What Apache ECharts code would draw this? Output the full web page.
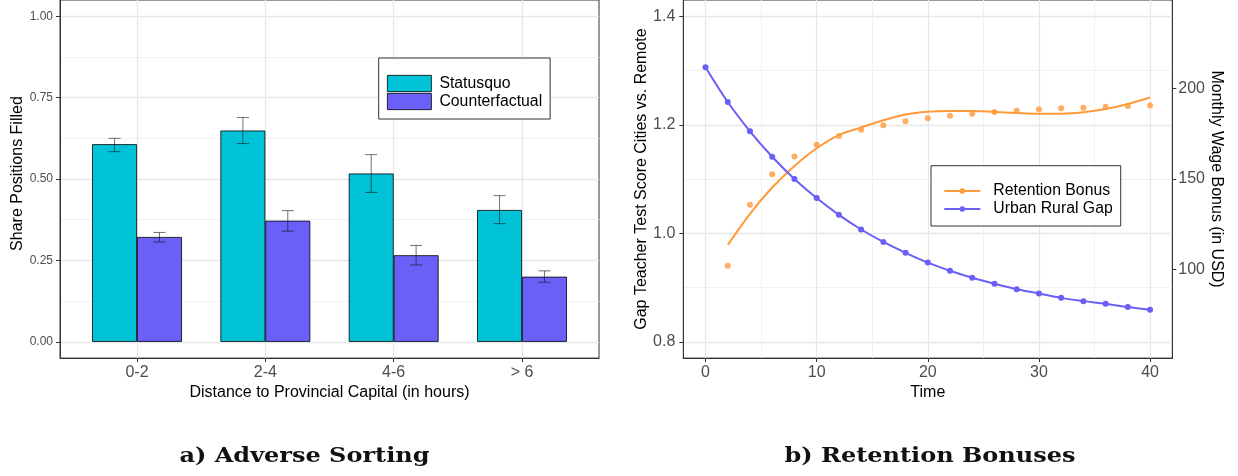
<!DOCTYPE html>
<html>
<head>
<meta charset="utf-8">
<script src="https://cdn.jsdelivr.net/npm/echarts@6/dist/echarts.min.js"></script>
<style>
  html, body { margin: 0; padding: 0; background: #ffffff; }
  #chart { width: 1238px; height: 476px; }
</style>
</head>
<body>
<div id="chart"></div>
<script>
// ---- Panel a: share of positions filled by distance band ----
const categories = ['0-2', '2-4', '4-6', '> 6'];
const statusquo = [0.607, 0.649, 0.517, 0.405];
const statusquoLow = [0.584, 0.609, 0.459, 0.363];
const statusquoHigh = [0.625, 0.689, 0.575, 0.449];
const counterfactual = [0.322, 0.372, 0.266, 0.200];
const counterfactualLow = [0.307, 0.340, 0.236, 0.183];
const counterfactualHigh = [0.336, 0.403, 0.296, 0.218];
const shareTicks = [0, 0.25, 0.5, 0.75, 1];
const shareMinorTicks = [0.125, 0.375, 0.625, 0.875];

// ---- Panel b: urban-rural gap and retention bonus over time ----
const gapTimes = [0, 2, 4, 6, 8, 10, 12, 14, 16, 18, 20, 22, 24, 26, 28, 30, 32, 34, 36, 38, 40];
const urbanRuralGap = [1.306, 1.242, 1.188, 1.141, 1.100, 1.065, 1.034, 1.007, 0.984, 0.964, 0.946,
                       0.931, 0.918, 0.907, 0.897, 0.889, 0.881, 0.875, 0.870, 0.864, 0.859];
const bonusTimes = [2, 4, 6, 8, 10, 12, 14, 16, 18, 20, 22, 24, 26, 28, 30, 32, 34, 36, 38, 40];
const retentionBonus = [102.0, 135.8, 152.6, 162.4, 169.0, 173.8, 177.2, 179.8, 182.0, 183.6,
                        185.0, 186.1, 187.1, 187.8, 188.6, 189.1, 189.4, 190.0, 190.4, 190.7];
const retentionBonusFit = [113.5, 130.8, 145.3, 157.2, 167.0, 174.3, 178.5, 182.5, 185.7, 187.2,
                           187.6, 187.6, 187.1, 186.5, 186.1, 186.1, 186.9, 188.7, 191.5, 195.1];
const timeTicks = [0, 10, 20, 30, 40];
const timeMinorTicks = [5, 15, 25, 35];
const gapTicks = [0.8, 1.0, 1.2, 1.4];
const gapMinorTicks = [0.9, 1.1, 1.3];
const bonusTicks = [100, 150, 200];

const FONT = '"Liberation Sans", Arial, Helvetica, sans-serif';
const CYAN = '#00C3D7';
const PURPLE = '#6A5FF6';
const ORANGE = '#FF9A3A';
const AXIS = '#333333';
const TICK_TEXT = '#4D4D4D';
const GRID_MAJOR = '#E7E7E7';
const GRID_MINOR = '#F1F1F1';

const DODGE = 0.175;     // half of one bar's width in category units
const CAP = 0.047;       // half width of the error bar caps

function majorAxis(extra) {
  return Object.assign({
    type: 'value',
    axisLine: { show: true, onZero: false, lineStyle: { color: AXIS, width: 1 } },
    axisTick: { show: true, length: 4, lineStyle: { color: AXIS, width: 1 } },
    axisLabel: { color: TICK_TEXT, fontFamily: FONT, fontSize: 16 },
    splitLine: { show: true, lineStyle: { color: GRID_MAJOR, width: 1.3 } },
    nameLocation: 'middle',
    nameTextStyle: { color: '#000', fontFamily: FONT, fontSize: 16 }
  }, extra);
}

function minorAxis(extra) {
  return Object.assign({
    type: 'value',
    axisLine: { show: false, onZero: false },
    axisTick: { show: false },
    axisLabel: { show: false },
    splitLine: { show: true, lineStyle: { color: GRID_MINOR, width: 1 } }
  }, extra);
}

function errorBars(name, lows, highs, offset) {
  return {
    type: 'custom',
    name: name + ' CI',
    xAxisIndex: 0,
    yAxisIndex: 0,
    z: 5,
    silent: true,
    data: lows.map((lo, i) => [i + 1, lo, highs[i]]),
    encode: { x: 0, y: [1, 2] },
    renderItem: function (params, api) {
      const x = api.value(0) + offset;
      const lo = api.value(1), hi = api.value(2);
      const pLo = api.coord([x, lo]), pHi = api.coord([x, hi]);
      const l = api.coord([x - CAP, lo])[0], r = api.coord([x + CAP, lo])[0];
      const style = { stroke: 'rgba(20,20,20,0.6)', lineWidth: 1 };
      return {
        type: 'group',
        children: [
          { type: 'line', shape: { x1: pLo[0], y1: pLo[1], x2: pHi[0], y2: pHi[1] }, style: style },
          { type: 'line', shape: { x1: l, y1: pLo[1], x2: r, y2: pLo[1] }, style: style },
          { type: 'line', shape: { x1: l, y1: pHi[1], x2: r, y2: pHi[1] }, style: style }
        ]
      };
    }
  };
}

const chart = echarts.init(document.getElementById('chart'), null, { renderer: 'canvas' });

chart.setOption({
  animation: false,
  backgroundColor: '#ffffff',
  textStyle: { fontFamily: FONT },
  grid: [
    { left: 60, top: -2.3, width: 539, height: 360.4, show: true, borderColor: AXIS, borderWidth: 1, backgroundColor: 'transparent' },
    { left: 683.3, top: -2.3, width: 489, height: 360.4, show: true, borderColor: AXIS, borderWidth: 1, backgroundColor: 'transparent' }
  ],
  xAxis: [
    majorAxis({
      gridIndex: 0, min: 0.4, max: 4.6,
      axisTick: { show: true, length: 4, lineStyle: { color: AXIS }, customValues: [1, 2, 3, 4] },
      axisLabel: {
        color: TICK_TEXT, fontFamily: FONT, fontSize: 16, margin: 6,
        customValues: [1, 2, 3, 4],
        formatter: v => categories[Math.round(v) - 1]
      },
      name: 'Distance to Provincial Capital (in hours)', nameGap: 25
    }),
    majorAxis({
      gridIndex: 1, min: -2, max: 42,
      axisTick: { show: true, length: 4, lineStyle: { color: AXIS }, customValues: timeTicks },
      axisLabel: { color: TICK_TEXT, fontFamily: FONT, fontSize: 16, margin: 6, customValues: timeTicks },
      name: 'Time', nameGap: 25
    }),
    minorAxis({
      gridIndex: 1, min: -2, max: 42, position: 'bottom',
      axisTick: { show: false, customValues: timeMinorTicks }
    })
  ],
  yAxis: [
    majorAxis({
      gridIndex: 0, min: -0.05, max: 1.05, position: 'left',
      axisTick: { show: true, length: 4, lineStyle: { color: AXIS }, customValues: shareTicks },
      axisLabel: {
        color: TICK_TEXT, fontFamily: FONT, fontSize: 12, margin: 7,
        customValues: shareTicks, formatter: v => v.toFixed(2)
      },
      name: 'Share Positions Filled', nameGap: 34,
      nameTextStyle: { color: '#000', fontFamily: FONT, fontSize: 16, padding: [0, 0, 0, 11] }
    }),
    minorAxis({
      gridIndex: 0, min: -0.05, max: 1.05, position: 'left',
      axisTick: { show: false, customValues: shareMinorTicks }
    }),
    majorAxis({
      gridIndex: 1, min: 0.77, max: 1.43, position: 'left',
      axisTick: { show: true, length: 4, lineStyle: { color: AXIS }, customValues: gapTicks },
      axisLabel: {
        color: TICK_TEXT, fontFamily: FONT, fontSize: 16, margin: 8,
        customValues: gapTicks, formatter: v => v.toFixed(1)
      },
      name: 'Gap Teacher Test Score Cities vs. Remote', nameGap: 34
    }),
    majorAxis({
      gridIndex: 1, min: 51, max: 249, position: 'right',
      axisTick: { show: true, length: 4, lineStyle: { color: AXIS }, customValues: bonusTicks },
      axisLabel: { color: TICK_TEXT, fontFamily: FONT, fontSize: 16, margin: 6, customValues: bonusTicks },
      splitLine: { show: false },
      name: 'Monthly Wage Bonus (in USD)', nameGap: 33, nameRotate: -90
    }),
    minorAxis({
      gridIndex: 1, min: 0.77, max: 1.43, position: 'left',
      axisTick: { show: false, customValues: gapMinorTicks }
    })
  ],
  legend: [
    {
      data: ['Statusquo', 'Counterfactual'],
      orient: 'vertical', left: 378.7, top: 58,
      padding: [16.5, 8, 8.5, 8.3],
      itemWidth: 44, itemHeight: 16.3, itemGap: 0, icon: 'rect',
      itemStyle: { borderColor: '#000', borderWidth: 0.8 },
      selectedMode: false,
      backgroundColor: '#ffffff', borderColor: AXIS, borderWidth: 1,
      textStyle: { color: '#000', fontFamily: FONT, fontSize: 15.8, lineHeight: 18, padding: [0, 0, 0, 3] }
    },
    {
      data: ['Retention Bonus', 'Urban Rural Gap'],
      orient: 'vertical', left: 931, top: 165.7,
      padding: [16.3, 8, 8, 12.3],
      itemWidth: 36, itemHeight: 7, itemGap: 0,
      selectedMode: false,
      backgroundColor: '#ffffff', borderColor: AXIS, borderWidth: 1,
      textStyle: { color: '#000', fontFamily: FONT, fontSize: 15.8, lineHeight: 18, padding: [0, 0, 0, 8] }
    }
  ],
  graphic: [
    {
      type: 'text', x: 304.5, y: 457, scaleX: 1.2, silent: true,
      style: {
        text: 'a) Adverse Sorting', x: 0, y: 0,
        font: 'bold 20px "DejaVu Serif", serif', fill: '#111',
        align: 'center', verticalAlign: 'middle', textAlign: 'center', textVerticalAlign: 'middle'
      }
    },
    {
      type: 'text', x: 930, y: 457, scaleX: 1.2, silent: true,
      style: {
        text: 'b) Retention Bonuses', x: 0, y: 0,
        font: 'bold 20px "DejaVu Serif", serif', fill: '#111',
        align: 'center', verticalAlign: 'middle', textAlign: 'center', textVerticalAlign: 'middle'
      }
    }
  ],
  series: [
    {
      type: 'bar', name: 'Statusquo', xAxisIndex: 0, yAxisIndex: 0,
      data: statusquo.map((v, i) => [i + 1, v]),
      barWidth: '35%', barGap: '0%',
      itemStyle: { color: CYAN, borderColor: '#000', borderWidth: 0.8 }
    },
    {
      type: 'bar', name: 'Counterfactual', xAxisIndex: 0, yAxisIndex: 0,
      data: counterfactual.map((v, i) => [i + 1, v]),
      barWidth: '35%', barGap: '0%',
      itemStyle: { color: PURPLE, borderColor: '#000', borderWidth: 0.8 }
    },
    errorBars('Statusquo', statusquoLow, statusquoHigh, -DODGE),
    errorBars('Counterfactual', counterfactualLow, counterfactualHigh, DODGE),
    {
      type: 'line', name: 'Retention Bonus', xAxisIndex: 1, yAxisIndex: 3,
      data: bonusTimes.map((t, i) => [t, retentionBonusFit[i]]),
      smooth: 0.35, symbol: 'circle', symbolSize: 6, showSymbol: false,
      color: ORANGE, lineStyle: { color: ORANGE, width: 2 }, itemStyle: { color: ORANGE }
    },
    {
      type: 'scatter', name: 'Retention Bonus', xAxisIndex: 1, yAxisIndex: 3,
      data: bonusTimes.map((t, i) => [t, retentionBonus[i]]),
      symbol: 'circle', symbolSize: 6, itemStyle: { color: ORANGE }
    },
    {
      type: 'line', name: 'Urban Rural Gap', xAxisIndex: 1, yAxisIndex: 2,
      data: gapTimes.map((t, i) => [t, urbanRuralGap[i]]),
      smooth: 0.35, symbol: 'circle', symbolSize: 6, showSymbol: true,
      color: PURPLE, lineStyle: { color: PURPLE, width: 2 }, itemStyle: { color: PURPLE }
    }
  ]
});
</script>
</body>
</html>
